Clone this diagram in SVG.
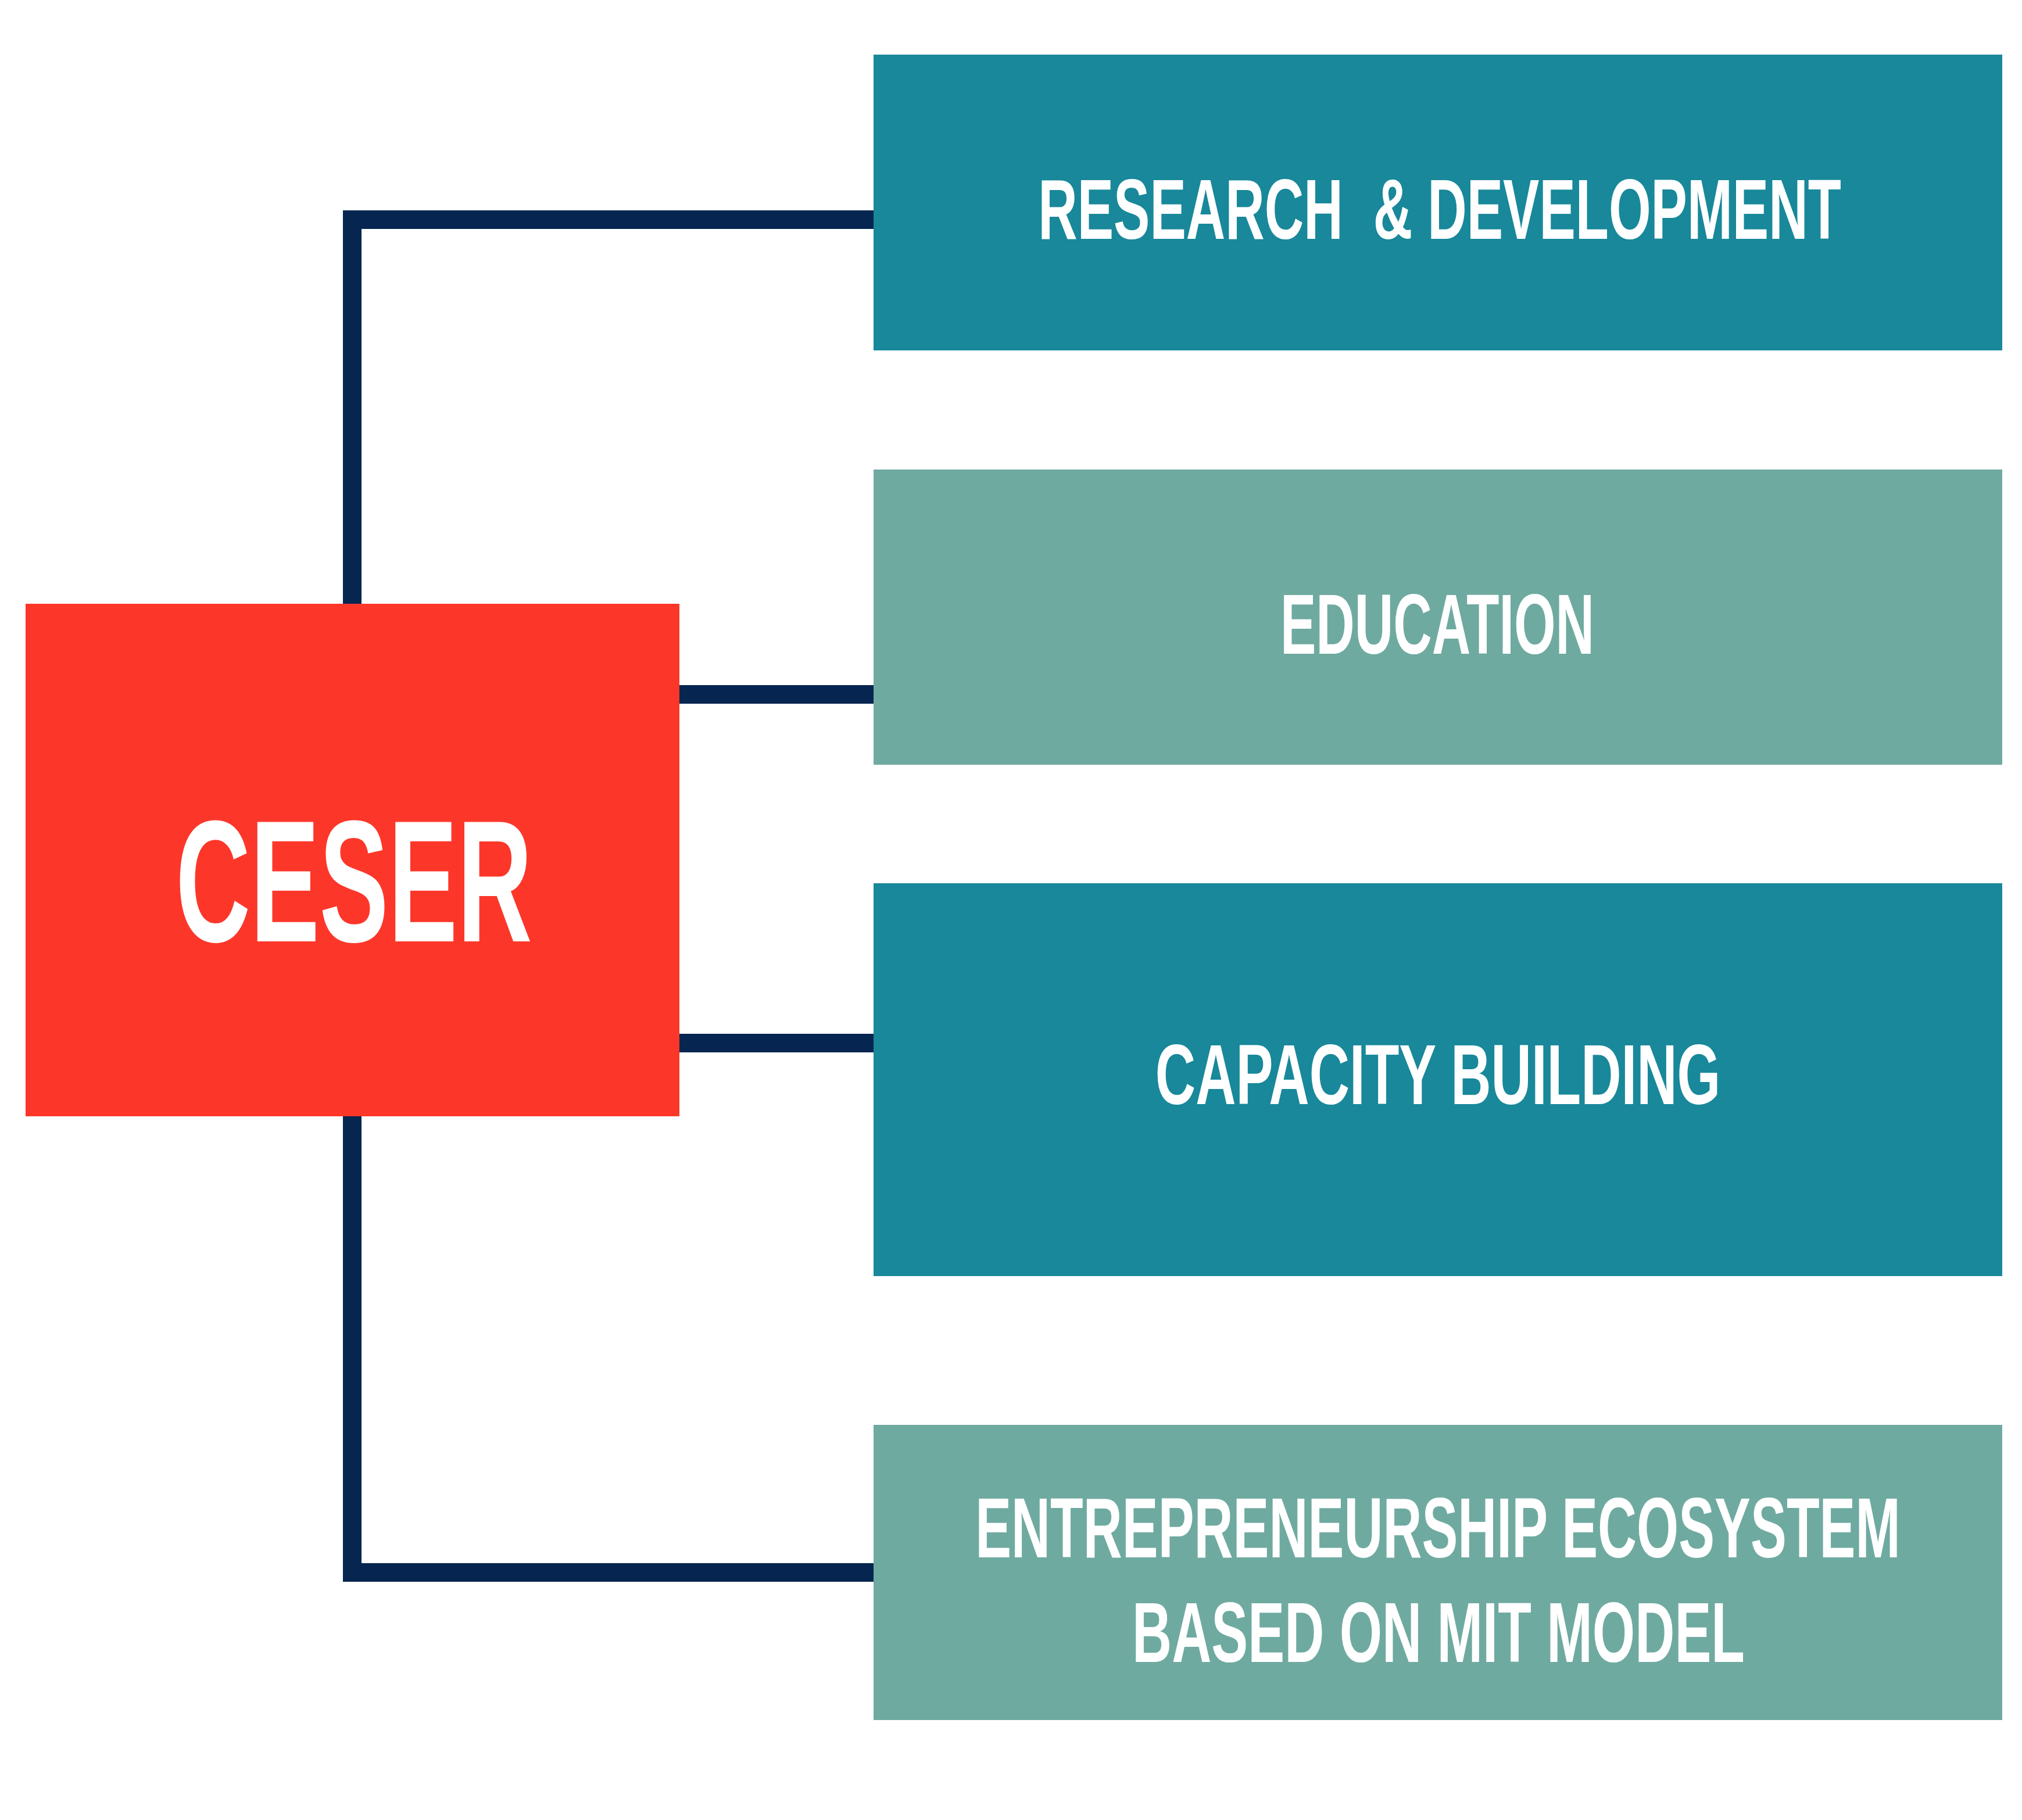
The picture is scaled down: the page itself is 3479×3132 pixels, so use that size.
<svg xmlns="http://www.w3.org/2000/svg" width="3479" height="3132" viewBox="0 0 3479 3132">
<style>
.conn{fill:none;stroke:#062550;stroke-width:32;stroke-linejoin:miter;stroke-linecap:butt}
.teal{fill:#18889A}
.sage{fill:#6FAAA0}
.red{fill:#FC372A}
.lbl{fill:#FFFFFF;font-family:"Liberation Sans",Arial,sans-serif;font-weight:bold;text-anchor:middle}
</style>
<rect width="3479" height="3132" fill="#FFFFFF"/>
<g id="connectors">
<path class="conn" d="M1503 378 H606 V2706 H1503"/>
<path class="conn" d="M1169 1195 H1503"/>
<path class="conn" d="M1169 1795 H1503"/>
</g>
<g id="node-ceser">
<rect class="red" x="44" y="1039" width="1125" height="882"/>
<text class="lbl" font-size="178" transform="translate(609,1620) scale(1,1.678)" x="0" y="0">CESER</text>
</g>
<g id="node-rd">
<rect class="teal" x="1503" y="94" width="1942" height="509"/>
<text class="lbl" font-size="93.5" transform="translate(2477,411) scale(1,1.572)" x="0" y="0" xml:space="preserve">RESEARCH  &amp; DEVELOPMENT</text>
</g>
<g id="node-education">
<rect class="sage" x="1503" y="808" width="1942" height="508"/>
<text class="lbl" font-size="92" transform="translate(2473,1125) scale(1,1.597)" x="0" y="0">EDUCATION</text>
</g>
<g id="node-capacity">
<rect class="teal" x="1503" y="1520" width="1942" height="676"/>
<text class="lbl" font-size="96" transform="translate(2474,1900) scale(1,1.532)" x="0" y="0">CAPACITY BUILDING</text>
</g>
<g id="node-entrepreneurship">
<rect class="sage" x="1503" y="2452" width="1942" height="508"/>
<text class="lbl" font-size="92.8" transform="translate(2474,2680) scale(1,1.583)" x="0" y="0">ENTREPRENEURSHIP ECOSYSTEM</text>
<text class="lbl" font-size="94.4" transform="translate(2475,2860) scale(1,1.558)" x="0" y="0">BASED ON MIT MODEL</text>
</g>
</svg>
